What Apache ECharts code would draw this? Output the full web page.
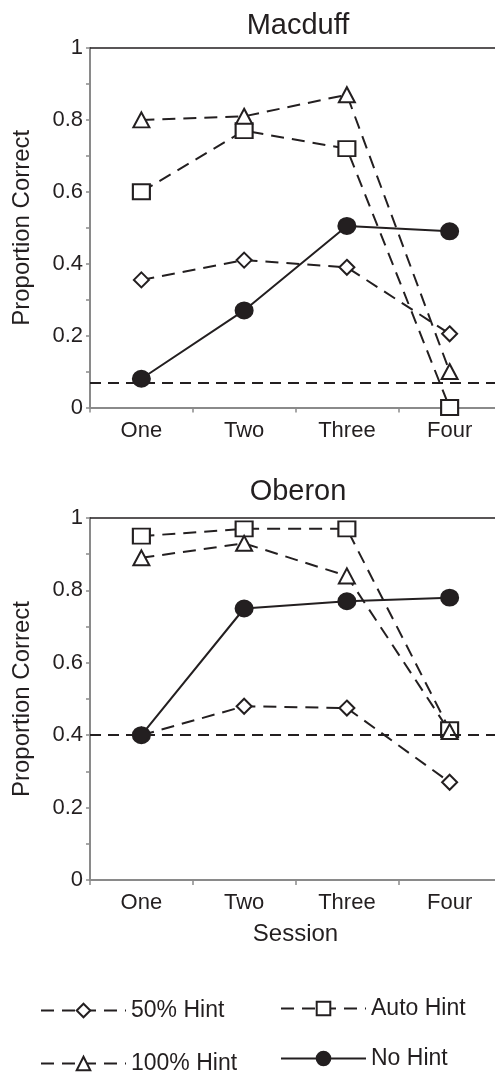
<!DOCTYPE html>
<html><head><meta charset="utf-8">
<script src="https://cdn.jsdelivr.net/npm/echarts@6/dist/echarts.min.js"></script>
<style>html,body{margin:0;padding:0;background:#fff;overflow:hidden;width:495px;height:1080px}#c{width:502px;height:1080px}</style>
</head><body><div id="c"></div>
<script>
const sessions = ['One', 'Two', 'Three', 'Four'];
const seriesNames = ['50% Hint', 'Auto Hint', '100% Hint', 'No Hint'];
const macduff50 = [0.355, 0.41, 0.39, 0.205];
const macduffAuto = [0.60, 0.77, 0.72, 0.0];
const macduff100 = [0.80, 0.81, 0.87, 0.10];
const macduffNo = [0.08, 0.27, 0.505, 0.49];
const macduffChance = 0.071;
const oberon50 = [0.40, 0.48, 0.475, 0.27];
const oberonAuto = [0.95, 0.97, 0.97, 0.415];
const oberon100 = [0.89, 0.93, 0.84, 0.41];
const oberonNo = [0.40, 0.75, 0.77, 0.78];
const oberonChance = 0.40;
const panelTitles = ['Macduff', 'Oberon'];

const INK = '#231f20';
const FONT = '"Liberation Sans", Arial, Helvetica, sans-serif';
const chart = echarts.init(document.getElementById('c'));

const grids = [
  {left: 90, top: 48, right: 1, height: 359.5},
  {left: 90, top: 518, right: 1, height: 362}
];
const dash = [13, 8];
const styles = {
  '50% Hint': {symbol: 'diamond', symbolSize: [15, 15], fill: '#fff', lineType: dash},
  'Auto Hint': {symbol: 'rect', symbolSize: [17, 15], fill: '#fff', lineType: dash},
  '100% Hint': {symbol: 'triangle', symbolSize: [16, 15], fill: '#fff', lineType: dash},
  'No Hint': {symbol: 'circle', symbolSize: [17, 16], fill: INK, lineType: 'solid'}
};
function mkSeries(name, data, gi, chance) {
  const s = styles[name];
  const o = {
    name, type: 'line', xAxisIndex: gi * 2, yAxisIndex: gi, data,
    symbol: s.symbol, symbolSize: s.symbolSize, showAllSymbol: true,
    lineStyle: {color: INK, width: 2, type: s.lineType},
    itemStyle: {color: s.fill, borderColor: INK, borderWidth: 2},
    emphasis: {disabled: true}, animation: false, z: name === 'No Hint' ? 3 : 2
  };
  if (chance !== undefined) {
    o.markLine = {
      silent: true, symbol: 'none', label: {show: false}, animation: false,
      lineStyle: {color: INK, width: 2, type: [11, 7]},
      data: [{yAxis: chance}]
    };
  }
  return o;
}
const series = [
  mkSeries('50% Hint', macduff50, 0, macduffChance),
  mkSeries('Auto Hint', macduffAuto, 0),
  mkSeries('100% Hint', macduff100, 0),
  mkSeries('No Hint', macduffNo, 0),
  mkSeries('50% Hint', oberon50, 1, oberonChance),
  mkSeries('Auto Hint', oberonAuto, 1),
  mkSeries('100% Hint', oberon100, 1),
  mkSeries('No Hint', oberonNo, 1)
];

function xAxes(gi) {
  return [{
    type: 'category', gridIndex: gi, data: sessions, boundaryGap: true,
    axisLine: {lineStyle: {color: '#8a8a8a', width: 2}},
    axisTick: {show: true, inside: false, length: 5, lineStyle: {color: '#8a8a8a', width: 1.5}},
    axisLabel: {color: INK, fontSize: 22, fontFamily: FONT, margin: 12},
    name: gi === 1 ? 'Session' : '', nameLocation: 'middle', nameGap: 42,
    nameTextStyle: {color: INK, fontSize: 24, fontFamily: FONT}
  }, {
    type: 'category', gridIndex: gi, data: sessions, position: 'top',
    axisLine: {lineStyle: {color: INK, width: 1.5}},
    axisTick: {show: false}, axisLabel: {show: false}
  }];
}
function yAxis(gi) {
  return {
    type: 'value', gridIndex: gi, min: 0, max: 1, interval: 0.2,
    axisLine: {show: true, lineStyle: {color: '#8a8a8a', width: 2}},
    axisTick: {show: true, inside: false, length: 4, lineStyle: {color: '#8a8a8a', width: 1.5}},
    minorTick: {show: true, splitNumber: 2, length: 4, lineStyle: {color: '#8a8a8a', width: 1.5}},
    splitLine: {show: false},
    axisLabel: {color: INK, fontSize: 22, fontFamily: FONT, margin: 7},
    name: 'Proportion Correct', nameLocation: 'middle', nameGap: 56, nameRotate: 90,
    nameTextStyle: {color: INK, fontSize: 24, fontFamily: FONT}
  };
}

function legendItem(name, left, top) {
  return {
    orient: 'horizontal', left, top, data: [name],
    itemWidth: 85, itemHeight: 17,
    textStyle: {color: INK, fontSize: 23, fontFamily: FONT},
    selectedMode: false, padding: 0
  };
}
chart.setOption({
  backgroundColor: '#fff',
  animation: false,
  title: [
    {text: panelTitles[0], left: 293, top: 6, textAlign: 'center', textStyle: {color: INK, fontSize: 29, fontWeight: 'normal', fontFamily: FONT}},
    {text: panelTitles[1], left: 293, top: 472, textAlign: 'center', textStyle: {color: INK, fontSize: 29, fontWeight: 'normal', fontFamily: FONT}}
  ],
  grid: grids,
  xAxis: [...xAxes(0), ...xAxes(1)],
  yAxis: [yAxis(0), yAxis(1)],
  legend: [
    legendItem(seriesNames[0], 40, 999),
    legendItem(seriesNames[2], 40, 1052),
    legendItem(seriesNames[1], 280, 997),
    legendItem(seriesNames[3], 280, 1047)
  ],
  series
});
</script></body></html>
